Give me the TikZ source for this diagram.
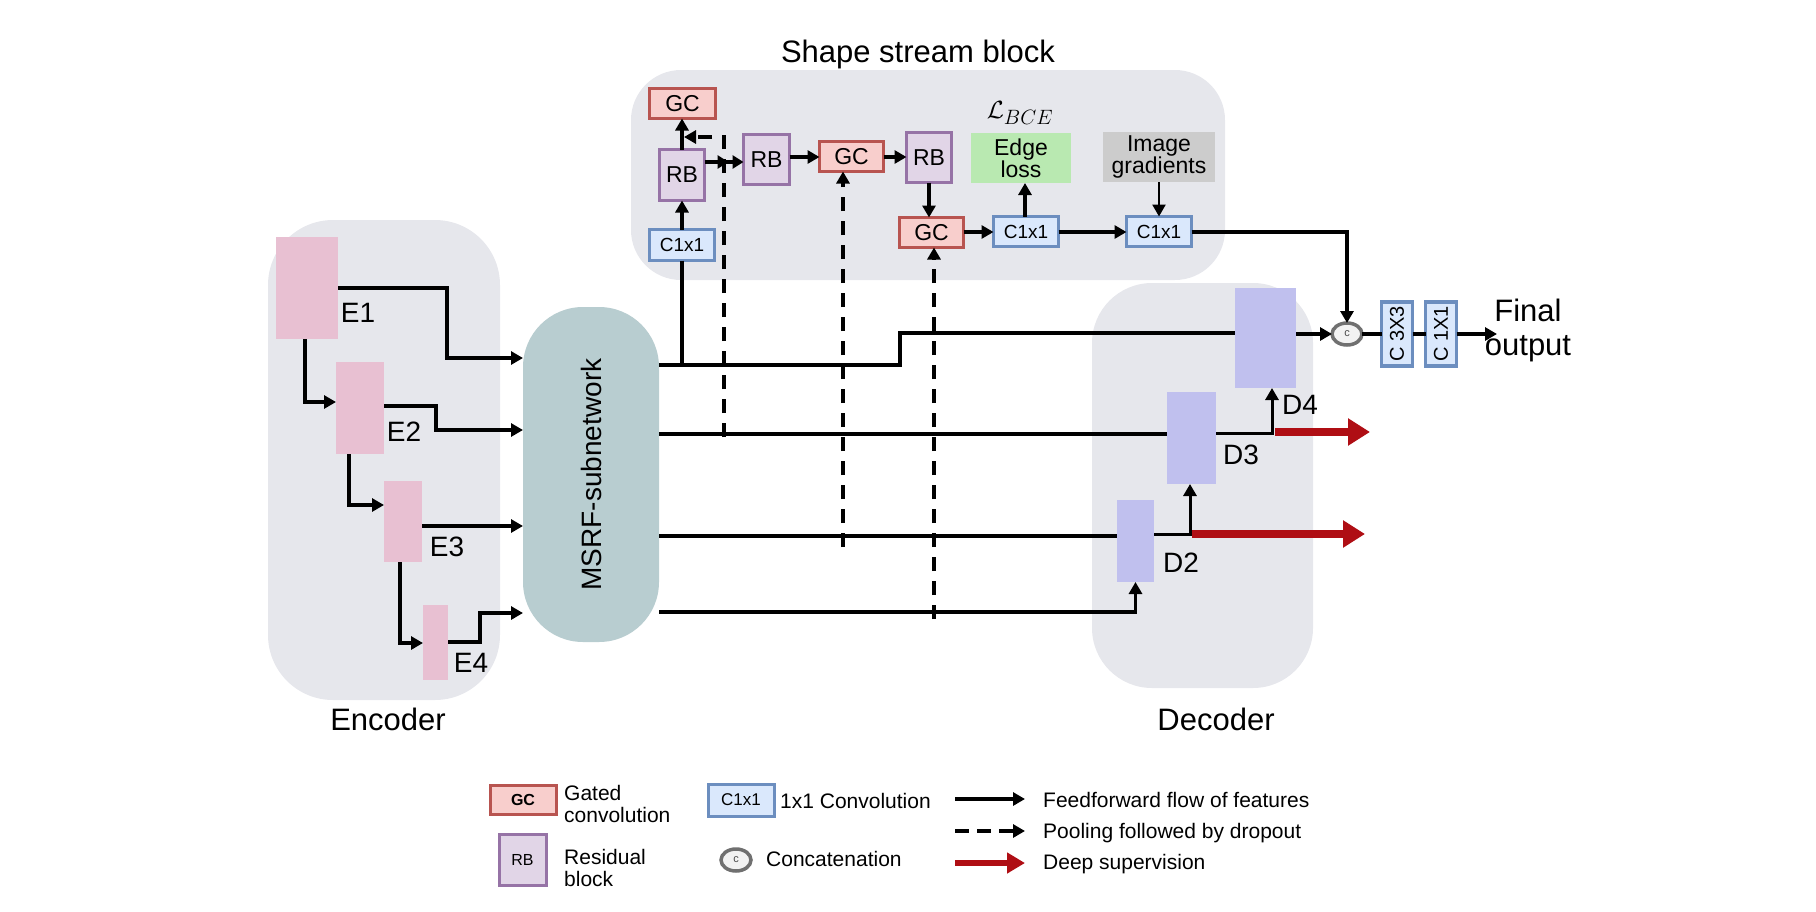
\documentclass[tikz,border=0pt]{standalone}
\usepackage{fontspec}
\setmainfont{Liberation Sans}
\usetikzlibrary{arrows.meta,shapes.geometric,calc}
\definecolor{bggray}{HTML}{E6E7EC}
\definecolor{gcfill}{HTML}{F8CECC}
\definecolor{gcdraw}{HTML}{B85450}
\definecolor{rbfill}{HTML}{E1D5E7}
\definecolor{rbdraw}{HTML}{9673A6}
\definecolor{cfill}{HTML}{DAE8FC}
\definecolor{cdraw}{HTML}{6C8EBF}
\definecolor{efill}{HTML}{E8C0D2}
\definecolor{dfill}{HTML}{C0C0EE}
\definecolor{msrffill}{HTML}{B8CDD0}
\definecolor{greenfill}{HTML}{B9E9B1}
\definecolor{grayfill}{HTML}{CCCCCC}
\definecolor{redarr}{HTML}{AF0E14}
\definecolor{catdraw}{HTML}{707070}
\definecolor{catfill}{HTML}{F2F2F2}
\newcommand{\fsz}[2]{\fontsize{#1}{#2}\selectfont}
\begin{document}
\begin{tikzpicture}[x=1pt,y=-1pt,
  box/.style={rectangle, inner sep=0pt, outer sep=0pt, line width=3.5pt, font=\fsz{23}{26}},
  gcbox/.style={box, draw=gcdraw, fill=gcfill},
  rbbox/.style={box, draw=rbdraw, fill=rbfill},
  cbox/.style={box, draw=cdraw, fill=cfill, font=\fsz{19}{22}},
  enc/.style={rectangle, fill=efill, inner sep=0pt, outer sep=0pt},
  dec/.style={rectangle, fill=dfill, inner sep=0pt, outer sep=0pt},
  lbl/.style={inner sep=0pt, font=\fsz{28}{32}},
  big/.style={inner sep=0pt, font=\fsz{31}{34}},
  leg/.style={inner sep=0pt, anchor=west, align=left, font=\fsz{21}{22}},
  catn/.style={ellipse, draw=catdraw, fill=catfill, line width=3.5pt, minimum width=30pt, minimum height=22pt, inner sep=0pt, outer sep=0pt, font=\fsz{11}{12}, text=black!70},
  ff/.style={line width=3.5pt, -{Triangle[length=12pt,width=13pt]}},
  ln/.style={line width=3.5pt},
  pool/.style={line width=4pt, dash pattern=on 14pt off 10pt, -{Triangle[length=12pt,width=13pt]}},
  ds/.style={line width=8pt, draw=redarr, -{Triangle[length=22pt,width=26pt]}},
]
\useasboundingbox (0,0) rectangle (1816,911);

% backgrounds
\fill[bggray, rounded corners=50pt] (631,70) rectangle (1225,280);
\fill[bggray, rounded corners=65pt] (268,220) rectangle (500,700);
\fill[bggray, rounded corners=60pt] (1092,283) rectangle (1313,688);

% titles
\node[big] (ttl) at (918,54) {Shape stream block};
\node[big] (tenc) at (388,719) {Encoder};
\node[big] (tdec) at (1216,719) {Decoder};

% encoder blocks
\node[enc, minimum width=62pt, minimum height=102pt] (E1) at (307,288) {};
\node[enc, minimum width=48pt, minimum height=92pt] (E2) at (360,408) {};
\node[enc, minimum width=38pt, minimum height=81pt] (E3) at (403,521.5) {};
\node[enc, minimum width=25pt, minimum height=75pt] (E4) at (435.5,642.5) {};
\node[lbl] (lE1) at (358,313) {E1};
\node[lbl] (lE2) at (404,432) {E2};
\node[lbl] (lE3) at (447,547) {E3};
\node[lbl] (lE4) at (471,663) {E4};

% MSRF
\node[rectangle, rounded corners=60pt, fill=msrffill, minimum width=136pt, minimum height=335pt, inner sep=0pt, outer sep=0pt, font=\fsz{28}{32}] (msrf) at (591,474.5) {\rotatebox{90}{MSRF-subnetwork}};

% decoder blocks
\node[dec, minimum width=61pt, minimum height=100pt] (D4) at (1265.5,338) {};
\node[dec, minimum width=49pt, minimum height=92pt] (D3) at (1191.5,438) {};
\node[dec, minimum width=37pt, minimum height=82pt] (D2) at (1135.5,541) {};
\node[lbl] (lD4) at (1300,405) {D4};
\node[lbl] (lD3) at (1241,455) {D3};
\node[lbl] (lD2) at (1181,563) {D2};

% shape stream nodes
\node[gcbox, minimum width=66pt, minimum height=30pt] (gc1) at (682.5,103.5) {GC};
\node[rbbox, minimum width=45pt, minimum height=51pt] (rb1) at (682,175) {RB};
\node[cbox, minimum width=65pt, minimum height=31pt] (c1a) at (682,245) {C1x1};
\node[rbbox, minimum width=46pt, minimum height=50pt] (rb2) at (766.5,159.5) {RB};
\node[gcbox, minimum width=64pt, minimum height=30pt] (gc2) at (851.5,156.5) {GC};
\node[rbbox, minimum width=45pt, minimum height=50pt] (rb3) at (929,157.5) {RB};
\node[gcbox, minimum width=64pt, minimum height=30pt] (gc3) at (931.5,232.5) {GC};
\node[cbox, minimum width=65pt, minimum height=30pt] (c1b) at (1026,231.5) {C1x1};
\node[box, fill=greenfill, minimum width=100pt, minimum height=50pt, align=center, font=\fsz{23}{22}] (edge) at (1021,158) {Edge\\loss};
\node[inner sep=0pt, font=\fsz{24.88}{28}] (lbce) at (1020,113) {$\mathcal{L}_{BCE}$};
\node[box, fill=grayfill, minimum width=112pt, minimum height=50pt, align=center, font=\fsz{23}{22}] (imgr) at (1159,157) {Image\\gradients};
\node[cbox, minimum width=65pt, minimum height=30pt] (c1c) at (1159,231.5) {C1x1};

% output part
\node[catn] (cat) at (1347,334) {c};
\node[cbox, minimum width=31pt, minimum height=64pt, font=\fsz{20}{22}] (c33) at (1397,334) {\rotatebox{90}{C 3X3}};
\node[cbox, minimum width=31pt, minimum height=64pt, font=\fsz{20}{22}] (c11) at (1441,334) {\rotatebox{90}{C 1X1}};
\node[big, align=center] (fo) at (1528,330) {Final\\output};
\coordinate (foe) at (1497,334);

% encoder connectors
\draw[ff] (E1.east |- 0,288) -| (447,358) -- (msrf.west |- 0,358);
\draw[ff] (E1.south -| 305,0) |- (E2.west |- 0,402);
\draw[ff] (E2.east |- 0,406) -| (436,430) -- (msrf.west |- 0,430);
\draw[ff] (E2.south -| 349,0) |- (E3.west |- 0,505);
\draw[ff] (E3.east |- 0,526) -- (msrf.west |- 0,526);
\draw[ff] (E3.south -| 400,0) |- (E4.west |- 0,643);
\draw[ff] (E4.east |- 0,642) -| (480,613) -- (msrf.west |- 0,613);

% msrf outputs
\draw[ln] (msrf.east |- 0,365) -| (900,333) -- (D4.west |- 0,333);
\draw[ln] (c1a.south) -- (c1a.south |- 0,365);
\draw[ln] (msrf.east |- 0,434) -- (D3.west |- 0,434);
\draw[ln] (msrf.east |- 0,536) -- (D2.west |- 0,536);
\draw[ff] (msrf.east |- 0,612) -| (D2.south);

% shape stream connectors
\draw[ff] (c1a.north) -- (rb1.south);
\draw[ff] (rb1.north) -- (rb1.north |- gc1.south);
\draw[line width=3.5pt, -{Triangle[length=11pt,width=13pt,sep=4pt]Triangle[length=11pt,width=13pt]}] (rb1.east |- 0,162) -- (rb2.west |- 0,162);
\draw[ff] (rb2.east |- 0,157) -- (gc2.west |- 0,157);
\draw[ff] (gc2.east |- 0,157) -- (rb3.west |- 0,157);
\draw[ff] (rb3.south) -- (rb3.south |- gc3.north);
\draw[ff] (gc3.east |- 0,232) -- (c1b.west |- 0,232);
\draw[ff] (c1b.north -| 1025,0) -- (edge.south -| 1025,0);
\draw[ff, line width=2.5pt] (imgr.south) -- (c1c.north);
\draw[ff] (c1b.east |- 0,232) -- (c1c.west |- 0,232);
\draw[ff] (c1c.east |- 0,232) -| (cat.north);

% dashed pooling connectors
\coordinate (d1s) at (724,437);
\coordinate (d1t) at (684,137);
\coordinate (d2s) at (843,547);
\coordinate (d3s) at (934,619);
\draw[pool] (d1s) -- (d1s |- d1t) -- (d1t);
\draw[pool] (d2s) -- (d2s |- gc2.south);
\draw[pool] (d3s) -- (d3s |- gc3.south);

% decoder connectors
\coordinate (j1) at (1190,534);
\coordinate (j2) at (1272,433);
\coordinate (r1e) at (1365,534);
\coordinate (r2e) at (1370,432);
\draw[ff, line width=3pt] (D2.east |- j1) -| (j1 |- D3.south);
\draw[ff, line width=3pt] (D3.east |- j2) -| (j2 |- D4.south);
\draw[ds] ([xshift=2pt]j1) -- (r1e);
\draw[ds] ([xshift=3pt]j2 |- r2e) -- (r2e);
\draw[ff] (D4.east |- cat.west) -- (cat.west);
\draw[ln] (cat.east) -- (c33.west);
\draw[ln] (c33.east) -- (c11.west);
\draw[ff] (c11.east) -- (foe);

% legend
\node[gcbox, line width=3pt, minimum width=66pt, minimum height=29pt, font=\fsz{16}{18}\bfseries] (lgc) at (523,799.5) {GC};
\node[leg] (tgc) at (564,804) {Gated\\convolution};
\node[rbbox, line width=3pt, minimum width=47pt, minimum height=51pt, font=\fsz{16}{18}] (lrb) at (522.5,859.5) {RB};
\node[leg] (trb) at (564,868) {Residual\\block};
\node[cbox, line width=3pt, minimum width=66pt, minimum height=32pt, font=\fsz{17}{18}] (lc1) at (741,800) {C1x1};
\node[leg] (tc1) at (780,801) {1x1 Convolution};
\node[catn] (lcat) at (736,860) {c};
\node[leg] (tcat) at (766,859) {Concatenation};
\coordinate (a1s) at (955,799);
\coordinate (a1e) at (1025,799);
\coordinate (a2s) at (955,831);
\coordinate (a2e) at (1025,831);
\coordinate (a3s) at (955,863);
\coordinate (a3e) at (1025,863);
\draw[ff] (a1s) -- (a1e);
\draw[line width=4pt, dash pattern=on 14pt off 8pt, -{Triangle[length=12pt,width=13pt]}] (a2s) -- (a2e);
\draw[line width=6pt, draw=redarr, -{Triangle[length=18pt,width=20pt]}] (a3s) -- (a3e);
\node[leg] (ta1) at (1043,800) {Feedforward flow of features};
\node[leg] (ta2) at (1043,833) {Pooling followed by dropout};
\node[leg] (ta3) at (1043,864) {Deep supervision};
\end{tikzpicture}
\end{document}
